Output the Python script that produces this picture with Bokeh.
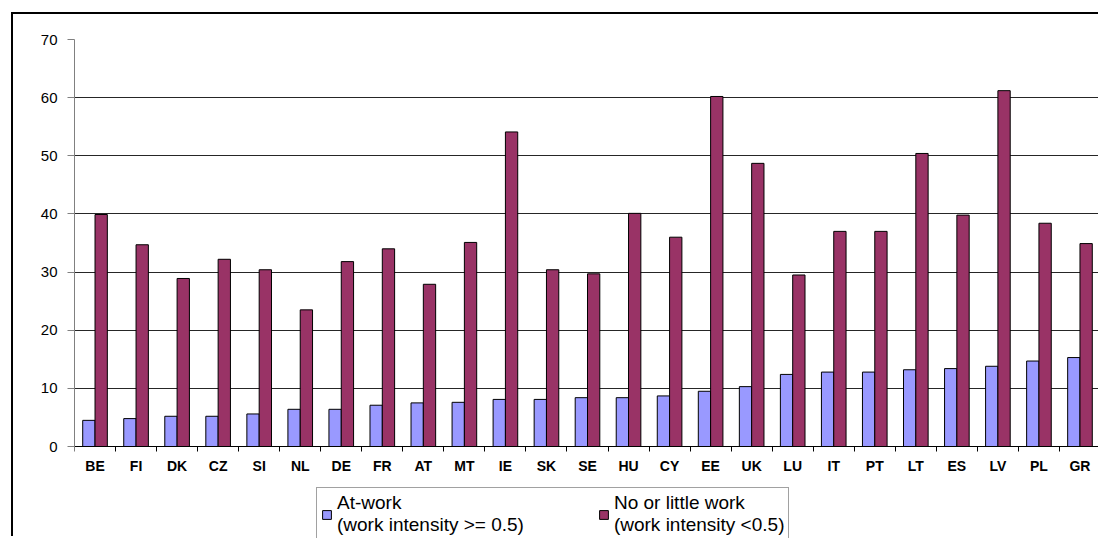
import numpy as np
from bokeh.plotting import figure
from bokeh.models import ColumnDataSource, Range1d, FixedTicker, Legend, LegendItem
from bokeh.transform import dodge
from bokeh.embed import file_html
from bokeh.resources import INLINE

countries = ["BE", "FI", "DK", "CZ", "SI", "NL", "DE", "FR", "AT", "MT", "IE", "SK", "SE",
             "HU", "CY", "EE", "UK", "LU", "IT", "PT", "LT", "ES", "LV", "PL", "GR"]
at_work = [4.5, 4.8, 5.2, 5.2, 5.6, 6.4, 6.4, 7.1, 7.5, 7.6, 8.1, 8.1, 8.4,
           8.4, 8.7, 9.5, 10.3, 12.4, 12.8, 12.8, 13.2, 13.4, 13.8, 14.7, 15.3]
no_work = [39.9, 34.7, 28.9, 32.2, 30.4, 23.5, 31.8, 34.0, 27.9, 35.1, 54.1, 30.4, 29.7,
           40.1, 36.0, 60.2, 48.7, 29.5, 37.0, 37.0, 50.4, 39.8, 61.2, 38.4, 34.9]
y_ticks = [0, 10, 20, 30, 40, 50, 60, 70]
series_names = ["At-work\n(work intensity >= 0.5)", "No or little work\n(work intensity <0.5)"]

FONT = "Liberation Sans"
n = len(countries)
xpos = list(np.arange(n) + 0.5)
src = ColumnDataSource(dict(x=xpos, country=countries, at_work=at_work, no_work=no_work))

# frame runs to the canvas bottom so the legend (drawn inside the frame) can sit below the axis
p = figure(width=1087, height=524, output_backend="svg", toolbar_location=None,
           x_range=Range1d(0, n), y_range=Range1d(-15.82, 70),
           min_border_left=61, min_border_right=0, min_border_top=25, min_border_bottom=0)
p.outline_line_color = None
p.background_fill_color = "white"
p.border_fill_color = "white"
p.margin = (12, 0, 0, 11)
p.styles = {"border-top": "2px solid black", "border-left": "2px solid black"}

r1 = p.vbar(x=dodge("x", -0.15), top="at_work", width=0.3, source=src,
            fill_color="#9999FF", line_color="black", line_width=1)
r2 = p.vbar(x=dodge("x", 0.15), top="no_work", width=0.3, source=src,
            fill_color="#993366", line_color="black", line_width=1)

# y axis
p.yaxis.ticker = FixedTicker(ticks=y_ticks)
p.yaxis.bounds = (0, 70)
p.yaxis.axis_line_color = "#808080"
p.yaxis.major_tick_line_color = "#808080"
p.yaxis.major_tick_out = 7
p.yaxis.major_tick_in = 0
p.yaxis.minor_tick_line_color = None
p.yaxis.major_label_text_font = FONT
p.yaxis.major_label_text_font_size = "15px"
p.yaxis.major_label_text_color = "black"
p.yaxis.major_label_standoff = 10

# x axis at y=0: labels at centers, ticks (minor) at boundaries
p.xaxis.fixed_location = 0
p.xaxis.ticker = FixedTicker(ticks=xpos, minor_ticks=list(range(n + 1)))
p.xaxis.major_label_overrides = {float(x): c for x, c in zip(xpos, countries)}
p.xaxis.major_tick_line_color = None
p.xaxis.major_tick_out = 0
p.xaxis.major_tick_in = 0
p.xaxis.minor_tick_line_color = "black"
p.xaxis.minor_tick_out = 5
p.xaxis.minor_tick_in = 0
p.xaxis.axis_line_color = "black"
p.xaxis.major_label_text_font = FONT
p.xaxis.major_label_text_font_size = "14px"
p.xaxis.major_label_text_font_style = "bold"
p.xaxis.major_label_text_color = "black"
p.xaxis.major_label_standoff = 6

p.xgrid.grid_line_color = None
p.ygrid.grid_line_color = "black"
p.ygrid.grid_line_alpha = 0.85
p.ygrid.bounds = (0, 70)

legend = Legend(items=[LegendItem(label=series_names[0], renderers=[r1]),
                       LegendItem(label=series_names[1], renderers=[r2])],
                orientation="horizontal", location=(242, -3))
legend.label_text_font = FONT
legend.label_text_font_size = "19px"
legend.label_text_line_height = 1.1
legend.label_text_color = "black"
legend.glyph_width = 11
legend.glyph_height = 11
legend.label_standoff = 5
legend.spacing = 74
legend.padding = 4
legend.margin = 0
legend.border_line_color = "#444444"
legend.border_line_width = 1
legend.background_fill_alpha = 1
p.add_layout(legend, "center")

open("out.html", "w").write(file_html(p, INLINE))
